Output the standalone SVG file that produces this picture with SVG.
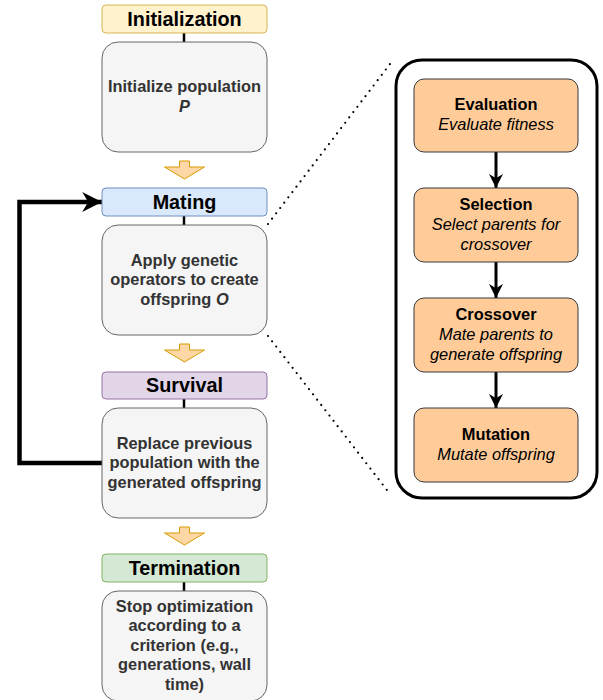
<svg xmlns="http://www.w3.org/2000/svg" width="603" height="700" viewBox="0 0 603 700">
  <defs>
    <style>
      .step { fill: #f5f5f5; stroke: #666666; stroke-width: 1; }
      .op { fill: #ffcc99; stroke: #36393d; stroke-width: 1; }
      .link { stroke: #000; stroke-width: 2.5; fill: none; }
      .inner { stroke: #000; stroke-width: 3; fill: none; }
      .flow { fill: #fdd7a6; stroke: #d79b00; stroke-width: 1; }
      .hdrtxt { font-family: "Liberation Sans", Arial, sans-serif; font-size: 19.8px; font-weight: bold; fill: #000; text-anchor: middle; }
      .body { font-family: "Liberation Sans", Arial, sans-serif; font-size: 16.4px; font-weight: bold; fill: #333333; text-anchor: middle; }
      .opt { font-family: "Liberation Sans", Arial, sans-serif; font-size: 16.4px; fill: #000; text-anchor: middle; }
      .opt .b { font-weight: bold; }
      .opt .i { font-style: italic; }
      .dots { stroke: #000; stroke-width: 2.2; stroke-linecap: round; stroke-dasharray: 0 6.7; fill: none; }
    </style>
    <marker id="head" viewBox="0 0 10 10" refX="10" refY="5" markerWidth="4.4" markerHeight="4.4" markerUnits="strokeWidth" orient="auto">
      <path d="M0,0 L10,5 L0,10 L3,5 Z" fill="#000"/>
    </marker>
    <marker id="headS" viewBox="0 0 10 10" refX="10" refY="5" markerWidth="4.7" markerHeight="4.7" markerUnits="strokeWidth" orient="auto">
      <path d="M0,0 L10,5 L0,10 L3,5 Z" fill="#000"/>
    </marker>
    <path id="blockArrow" d="M-5,0 H5 V6 H20 L0,18 L-20,6 H-5 Z"/>
  </defs>

  <!-- genetic operators panel (drawn first so its arrows sit on top) -->
  <g id="operators-panel">
    <rect x="396" y="60" width="201" height="438" rx="26" fill="#fff" stroke="#000" stroke-width="3"/>
  </g>

  <!-- connectors -->
  <g id="connectors">
    <line class="link" x1="184" y1="33" x2="184" y2="42"/>
    <line class="link" x1="184" y1="216" x2="184" y2="225"/>
    <line class="link" x1="184" y1="399" x2="184" y2="408"/>
    <line class="link" x1="184" y1="582" x2="184" y2="591"/>
    <use href="#blockArrow" class="flow" x="184.5" y="161"/>
    <use href="#blockArrow" class="flow" x="184.5" y="344"/>
    <use href="#blockArrow" class="flow" x="184.5" y="527"/>
    <path d="M102,463 H19.5 V202 H102" stroke="#000" stroke-width="4.5" fill="none" marker-end="url(#head)"/>
    <line class="dots" x1="268" y1="224" x2="390" y2="64"/>
    <line class="dots" x1="268" y1="336" x2="390" y2="494"/>
    <line class="inner" x1="496" y1="152" x2="496" y2="188" marker-end="url(#headS)"/>
    <line class="inner" x1="496" y1="262" x2="496" y2="298" marker-end="url(#headS)"/>
    <line class="inner" x1="496" y1="372" x2="496" y2="408" marker-end="url(#headS)"/>
  </g>

  <!-- initialization -->
  <g id="init-header">
    <rect x="102" y="5" width="165" height="28" rx="4" fill="#fff2cc" stroke="#d6b656"/>
    <text class="hdrtxt" x="184.5" y="26">Initialization</text>
  </g>
  <g id="init-step">
    <rect class="step" x="102" y="42" width="165" height="110" rx="16"/>
    <text class="body" x="184.5" y="92">Initialize population</text>
    <text class="body" x="184.5" y="111.5" font-style="italic">P</text>
  </g>

  <!-- mating -->
  <g id="mating-header">
    <rect x="102" y="188" width="165" height="28" rx="4" fill="#dae8fc" stroke="#6c8ebf"/>
    <text class="hdrtxt" x="184.5" y="209">Mating</text>
  </g>
  <g id="mating-step">
    <rect class="step" x="102" y="225" width="165" height="110" rx="16"/>
    <text class="body" x="184.5" y="265.5">Apply genetic</text>
    <text class="body" x="184.5" y="285">operators to create</text>
    <text class="body" x="184.5" y="304.5">offspring <tspan font-style="italic">O</tspan></text>
  </g>

  <!-- survival -->
  <g id="survival-header">
    <rect x="102" y="372" width="165" height="27" rx="4" fill="#e1d5e7" stroke="#9673a6"/>
    <text class="hdrtxt" x="184.5" y="392">Survival</text>
  </g>
  <g id="survival-step">
    <rect class="step" x="102" y="408" width="165" height="110" rx="16"/>
    <text class="body" x="184.5" y="448.5">Replace previous</text>
    <text class="body" x="184.5" y="468">population with the</text>
    <text class="body" x="184.5" y="487.5">generated offspring</text>
  </g>

  <!-- termination -->
  <g id="termination-header">
    <rect x="102" y="554" width="165" height="28" rx="4" fill="#d5e8d4" stroke="#82b366"/>
    <text class="hdrtxt" x="184.5" y="575">Termination</text>
  </g>
  <g id="termination-step">
    <rect class="step" x="102" y="591" width="165" height="110" rx="16"/>
    <text class="body" x="184.5" y="611.5">Stop optimization</text>
    <text class="body" x="184.5" y="631">according to a</text>
    <text class="body" x="184.5" y="650.5">criterion (e.g.,</text>
    <text class="body" x="184.5" y="670">generations, wall</text>
    <text class="body" x="184.5" y="689.5">time)</text>
  </g>

  <!-- operator steps -->
  <g id="evaluation">
    <rect class="op" x="414" y="79" width="164" height="73" rx="10"/>
    <text class="opt" x="496" y="110"><tspan class="b">Evaluation</tspan></text>
    <text class="opt" x="496" y="130"><tspan class="i">Evaluate fitness</tspan></text>
  </g>
  <g id="selection">
    <rect class="op" x="414" y="188" width="164" height="74" rx="10"/>
    <text class="opt" x="496" y="210"><tspan class="b">Selection</tspan></text>
    <text class="opt" x="496" y="230"><tspan class="i">Select parents for</tspan></text>
    <text class="opt" x="496" y="249.5"><tspan class="i">crossover</tspan></text>
  </g>
  <g id="crossover">
    <rect class="op" x="414" y="298" width="164" height="74" rx="10"/>
    <text class="opt" x="496" y="320"><tspan class="b">Crossover</tspan></text>
    <text class="opt" x="496" y="340"><tspan class="i">Mate parents to</tspan></text>
    <text class="opt" x="496" y="359.5"><tspan class="i">generate offspring</tspan></text>
  </g>
  <g id="mutation">
    <rect class="op" x="414" y="408" width="164" height="74" rx="10"/>
    <text class="opt" x="496" y="440"><tspan class="b">Mutation</tspan></text>
    <text class="opt" x="496" y="460"><tspan class="i">Mutate offspring</tspan></text>
  </g>
</svg>
